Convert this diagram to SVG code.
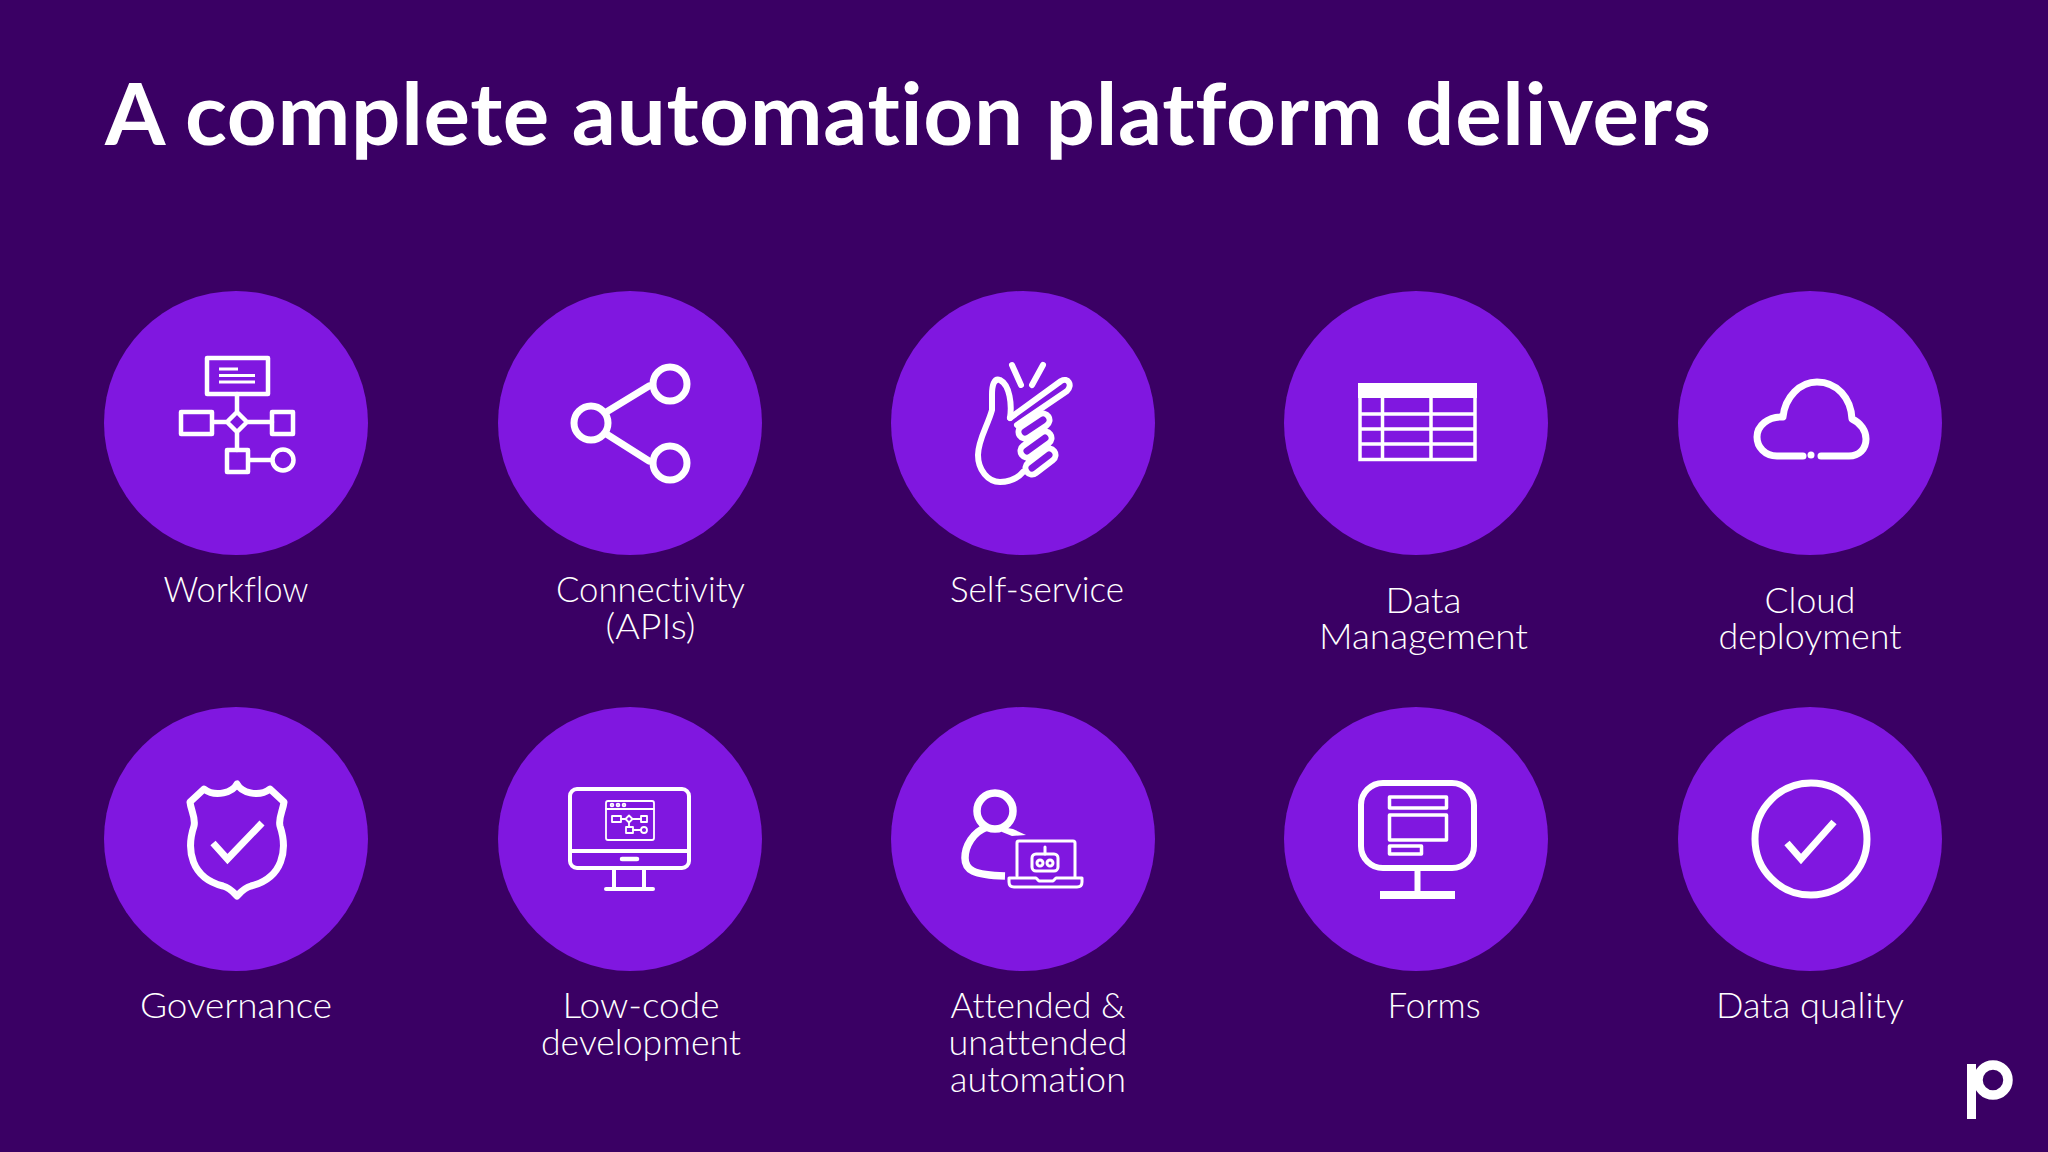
<svg xmlns="http://www.w3.org/2000/svg" width="2048" height="1152" viewBox="0 0 2048 1152">
<style>
.bg{fill:#3a0064}
.c{fill:#8017e0}
.s{fill:none;stroke:#fff;stroke-width:5;stroke-linecap:round;stroke-linejoin:round}
.t{fill:#fff;font-family:"Lato","Liberation Sans",sans-serif;font-weight:300;font-size:35px;text-anchor:middle;font-variant-ligatures:none}
.h{fill:#fff;font-family:"Lato","Liberation Sans",sans-serif;font-weight:700;font-size:87px;font-variant-ligatures:none}
</style>
<rect class="bg" width="2048" height="1152"/>
<text id="title" class="h" x="105" y="145" textLength="1606" lengthAdjust="spacing">A complete automation platform delivers</text>

<g id="workflow">
<circle class="c" cx="236" cy="423" r="132"/>
<g class="s" style="stroke-width:4.500">
<rect x="207" y="358" width="61" height="36"/>
<path d="M237 394V412M227 422L237 412L247 422L237 432ZM213 422H227M247 422H272M237 432V450M250 460H272"/>
<rect x="181" y="412" width="31" height="22"/>
<rect x="272" y="412" width="21" height="22"/>
<rect x="227" y="450" width="21" height="22"/>
<circle cx="283" cy="460" r="10.500"/>
</g>
<path d="M219 369H238M219 375.500H255M219 382H255" fill="none" stroke="#fff" stroke-width="3"/>
<text class="t" x="236" y="602" textLength="145" lengthAdjust="spacingAndGlyphs">Workflow</text>
</g>

<g id="connectivity">
<circle class="c" cx="630" cy="423" r="132"/>
<g class="s" style="stroke-width:7">
<circle cx="670" cy="384" r="17"/>
<circle cx="670" cy="463" r="17"/>
<circle cx="591" cy="423" r="17"/>
<path d="M608 411L649 386"/>
<path d="M608 435L649 461"/>
</g>
<text class="t" x="650.500" y="602" textLength="189" lengthAdjust="spacingAndGlyphs">Connectivity</text>
<text class="t" x="650.500" y="638.500" textLength="90" lengthAdjust="spacingAndGlyphs">(APIs)</text>
</g>

<g id="self-service">
<circle class="c" cx="1023" cy="423" r="132"/>
<g class="s" style="stroke-width:6">
<path d="M1012 365L1021 385M1043 365L1032 385"/>
<path d="M1010 418C1012 405 1010 385 1000 380C994 378 992 385 992 395L992 410C988 425 978 440 978 455C978 470 988 482 1000 482C1010 482 1018 478 1023 472"/>
<path d="M1010 418L1061 381C1068 377 1073 385 1067 391L1017 425"/>
</g>
<g style="fill:none;stroke-linecap:round">
<path d="M1025 432L1043 420M1027 451L1045 438M1032 468L1049 455" stroke="#fff" stroke-width="19"/>
<path d="M1025 432L1043 420M1027 451L1045 438M1032 468L1049 455" stroke="#8017e0" stroke-width="7"/>
</g>
<text class="t" x="1037" y="602" textLength="174" lengthAdjust="spacingAndGlyphs">Self-service</text>
</g>

<g id="data-management">
<circle class="c" cx="1416" cy="423" r="132"/>
<rect x="1358" y="383" width="119" height="15" fill="#fff"/>
<g class="s" style="stroke-width:3.500;stroke-linecap:butt;stroke-linejoin:miter">
<rect x="1360" y="385" width="115" height="74.500"/>
<path d="M1360 414H1475M1360 429H1475M1360 444H1475M1382.500 398V460M1431 398V460"/>
</g>
<text class="t" x="1423.500" y="612.500" textLength="76" lengthAdjust="spacingAndGlyphs">Data</text>
<text class="t" x="1423.500" y="649" textLength="209" lengthAdjust="spacingAndGlyphs">Management</text>
</g>

<g id="cloud-deployment">
<circle class="c" cx="1810" cy="423" r="132"/>
<path class="s" style="stroke-width:7" d="M1803 456H1777C1765 456 1757 447 1757 437C1757 426 1768 416 1783 417C1785 397 1800 382 1817 382C1837 382 1851 398 1852 419C1861 423 1866 431 1866 439C1866 449 1859 456 1849 456H1821"/>
<circle cx="1811" cy="455" r="3.500" fill="#fff"/>
<text class="t" x="1810" y="612.500" textLength="91" lengthAdjust="spacingAndGlyphs">Cloud</text>
<text class="t" x="1810" y="649" textLength="183" lengthAdjust="spacingAndGlyphs">deployment</text>
</g>

<g id="governance">
<circle class="c" cx="236" cy="839" r="132"/>
<g class="s" style="stroke-width:7">
<path d="M237 784C233 792 216 798 204 789L190 802C191 811 196 818 194 826C186 850 191 878 223 886C230 888 233 892 237 896C241 892 244 888 251 886C283 878 288 850 280 826C278 818 283 811 284 802L270 789C258 798 241 792 237 784Z"/>
<path style="stroke-linecap:butt;stroke-linejoin:miter;stroke-width:7" d="M213 843L227.500 859L262 823"/>
</g>
<text class="t" x="236" y="1018" textLength="192" lengthAdjust="spacingAndGlyphs">Governance</text>
</g>

<g id="low-code">
<circle class="c" cx="630" cy="839" r="132"/>
<g class="s" style="stroke-width:4">
<rect x="570" y="789" width="119" height="79" rx="7"/>
<path d="M570 851H689M614 868V889M644 868V889M606 889H653"/>
<path d="M622 859H637" style="stroke-width:4.500"/>
</g>
<g class="s" style="stroke-width:1.800">
<rect x="606" y="801" width="48" height="39" rx="2"/>
<path d="M606 809H654M621 819H626M632 819H641M629 822.500V827M633 830H641"/>
<circle cx="612" cy="805" r="1.400"/><circle cx="618" cy="805" r="1.400"/><circle cx="624" cy="805" r="1.400"/>
<rect x="612" y="816" width="9" height="6"/>
<rect x="641" y="816" width="6" height="6"/>
<rect x="626" y="827" width="7" height="6"/>
<circle cx="644" cy="830" r="3"/>
<path d="M625.500 819L629 815.500L632.500 819L629 822.500Z"/>
</g>
<text class="t" x="641" y="1018" textLength="157" lengthAdjust="spacingAndGlyphs">Low-code</text>
<text class="t" x="641" y="1055" textLength="200" lengthAdjust="spacingAndGlyphs">development</text>
</g>

<g id="attended">
<circle class="c" cx="1023" cy="839" r="132"/>
<g class="s" style="stroke-width:7.500">
<circle cx="995" cy="811" r="18"/>
<path style="stroke-linecap:butt" d="M987 827C973 832 965 846 965 858C965 870 973 875 1005 876"/>
</g>
<path d="M1002 827L1013 829L1026 835L1012 836L1002 832Z" fill="#fff"/>
<g class="s" style="stroke-width:3">
<path d="M1017 876V843Q1017 841 1019 841H1073Q1075 841 1075 843V877"/>
<path d="M1011 878H1036L1039 881H1053L1056 878H1082V882Q1082 887 1077 887H1014Q1009 887 1009 882V878Z"/>
<rect x="1032" y="854" width="26" height="17" rx="4"/>
<path d="M1045 847V854"/>
<circle cx="1040" cy="863" r="3"/><circle cx="1050" cy="863" r="3"/>
</g>
<text class="t" x="1038" y="1018" textLength="175" lengthAdjust="spacingAndGlyphs">Attended &amp;</text>
<text class="t" x="1038" y="1055" textLength="179" lengthAdjust="spacingAndGlyphs">unattended</text>
<text class="t" x="1038" y="1092" textLength="176" lengthAdjust="spacingAndGlyphs">automation</text>
</g>

<g id="forms">
<circle class="c" cx="1416" cy="839" r="132"/>
<g class="s" style="stroke-width:6;stroke-linecap:butt">
<rect x="1361" y="783" width="113" height="85" rx="22"/>
<path d="M1417.500 871V892"/>
</g>
<rect x="1380" y="891" width="75" height="8" fill="#fff"/>
<g class="s" style="stroke-width:3.500">
<rect x="1389.500" y="797" width="57" height="11"/>
<rect x="1389.500" y="815" width="57" height="25"/>
<rect x="1389.500" y="846" width="32" height="8"/>
</g>
<text class="t" x="1434" y="1018" textLength="93" lengthAdjust="spacingAndGlyphs">Forms</text>
</g>

<g id="data-quality">
<circle class="c" cx="1810" cy="839" r="132"/>
<circle class="s" style="stroke-width:7" cx="1811" cy="839" r="56"/>
<path class="s" style="stroke-width:7;stroke-linecap:butt;stroke-linejoin:miter" d="M1787 843L1801 859L1834 822"/>
<text class="t" x="1810" y="1018" textLength="188" lengthAdjust="spacingAndGlyphs">Data quality</text>
</g>

<g id="logo">
<rect x="1967" y="1064" width="9" height="55" fill="#fff"/>
<circle cx="1993" cy="1080" r="15" fill="none" stroke="#fff" stroke-width="9.500"/>
</g>
</svg>
